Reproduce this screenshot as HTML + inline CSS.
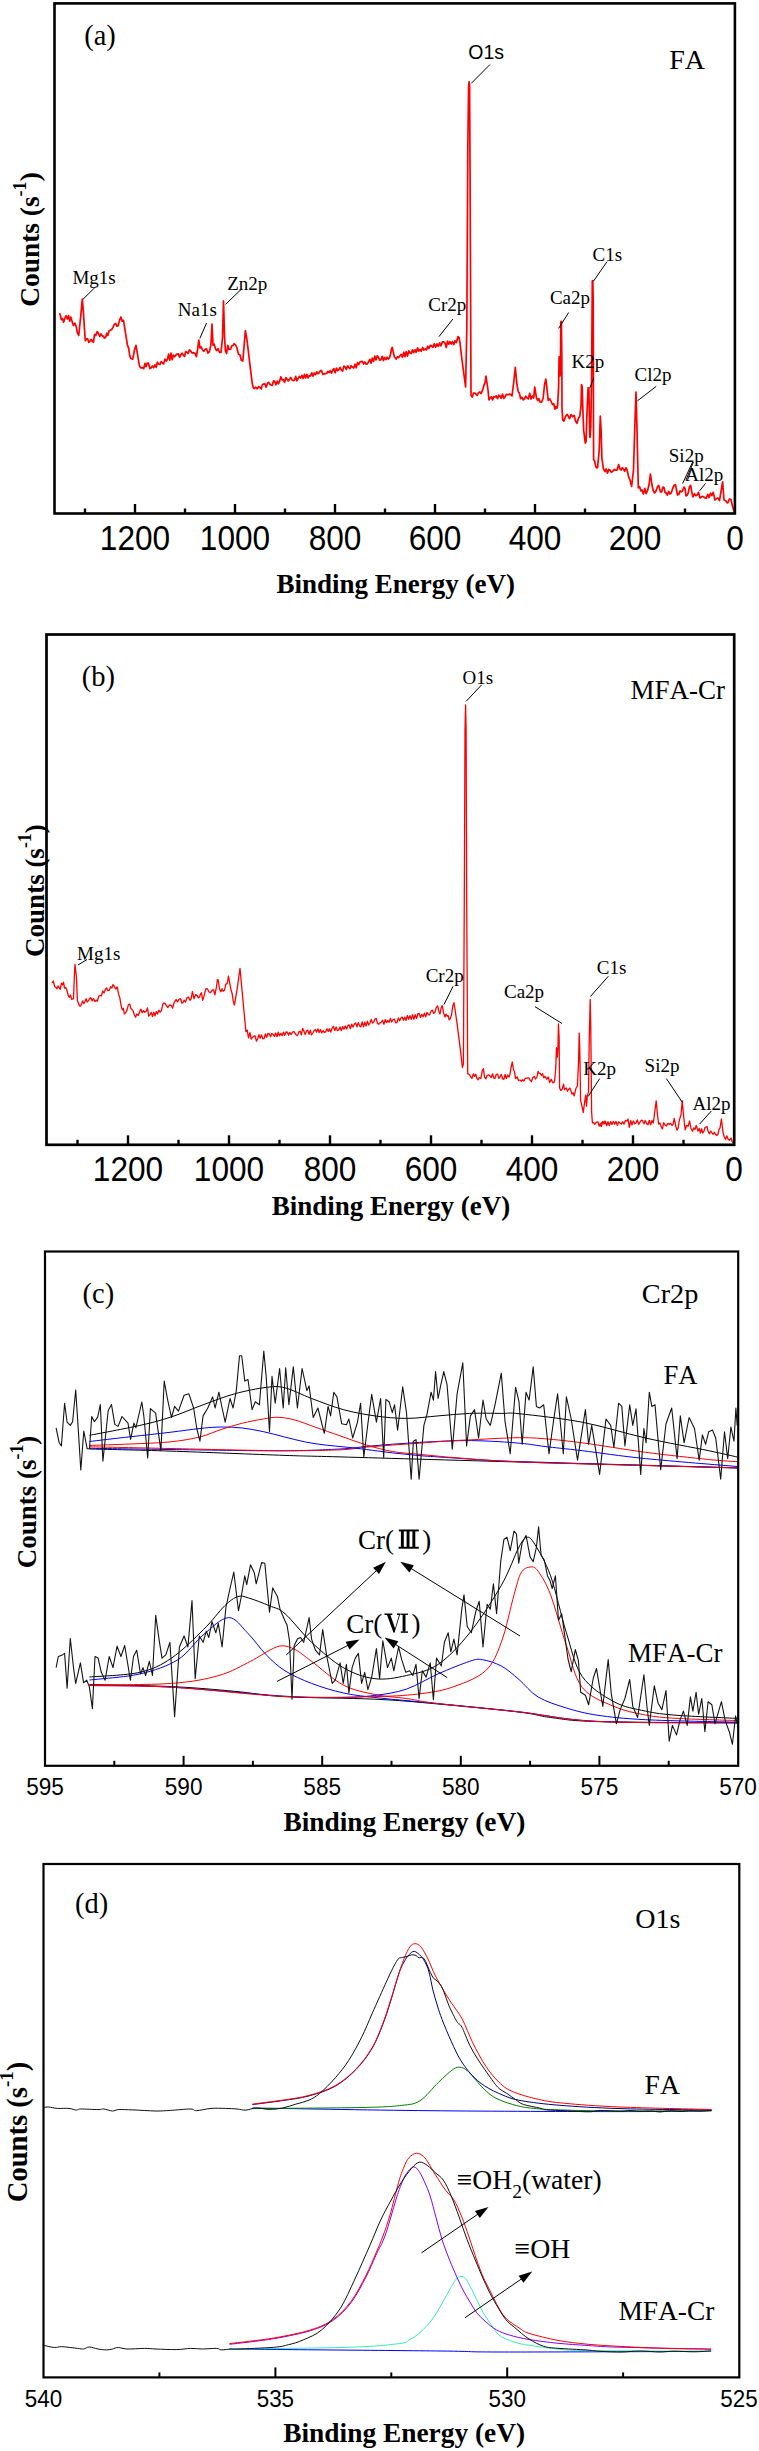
<!DOCTYPE html>
<html><head><meta charset="utf-8"><style>
html,body{margin:0;padding:0;background:#fff;overflow:hidden;width:759px;height:2451px;}
text{font-kerning:none;}
svg{display:block;}
</style></head><body>
<svg width="759" height="2451" viewBox="0 0 759 2451"><path d="M59,313.7 L60.1,314.1 L61.3,319.6 L62.5,318.5 L63.6,322.3 L64.9,318.1 L66.2,315.7 L67.4,319 L68.6,315.6 L69.7,321.1 L70.9,317.1 L72.1,321.6 L73.4,325.5 L74.8,323.1 L76.1,326.2 L77.4,332.7 L78.7,335.5 L80.7,316.4 L82.3,299.2 L83.3,311.1 L85.3,340.7 L86.5,339.3 L87.6,338.6 L88.8,342.5 L89.9,341.4 L91.1,339.3 L92.3,341.3 L93.4,342.3 L94.6,334.3 L95.8,335.5 L97.2,331.6 L98.5,333.5 L99.8,336.5 L101.1,333.9 L102.4,336.1 L103.4,336.1 L104.4,338.1 L105.6,337.4 L106.8,333.2 L107.9,335.4 L109.1,330.8 L110.3,330.2 L111.6,329.5 L113,327.5 L114.3,324.3 L115.6,323.3 L116.9,326.1 L118.2,325.6 L119.6,320.1 L120.9,317 L122.2,321.2 L123.5,320.3 L127.5,345.3 L128.6,347.9 L129.7,355.5 L130.8,358.5 L132.7,359.2 L134.5,350 L136,345.3 L139.3,365.1 L140.4,367.6 L141.5,367.9 L142.6,367.7 L143.8,368.7 L144.9,363.4 L146,366.7 L147.2,363.1 L148.5,363.1 L149.9,368.6 L151.2,367.7 L152.4,365.9 L153.7,367.7 L154.9,364.9 L156.2,367.4 L157.4,362.2 L158.7,363.9 L159.9,364.5 L161.2,361.6 L162.4,363 L163.7,363.9 L164.9,359.1 L166.2,361 L167.4,359.6 L168.6,354.2 L169.8,360.2 L171,353.2 L172.2,359.7 L173.4,355.2 L174.6,356.7 L175.8,355.1 L177.1,354 L178.3,353.8 L179.6,357.3 L180.8,354.7 L182.1,353.1 L183.3,355.2 L184.5,356.5 L185.7,351.5 L186.9,352.2 L188.2,353.5 L189.4,349.8 L190.6,350.9 L192.1,353.1 L193.5,352.7 L194.9,353.3 L196.4,356.7 L197.8,348 L198.8,340 L200,348 L201.3,347 L202.6,350.2 L203.8,351.3 L205.1,349.4 L206.5,348.8 L208,353.1 L209.4,351.6 L210.9,345.1 L212,324.1 L213,345.1 L214.1,344.1 L215.2,348 L216.6,350.6 L218.1,348.7 L219.6,352.5 L221,352.3 L222.5,337.8 L223.5,300.9 L224.6,337.8 L225.4,350.9 L226.6,353.5 L227.8,345.3 L229,349.4 L230.4,349.3 L231.9,345.8 L233,345.5 L234.1,343.6 L235.6,345 L237,348 L238.4,354.1 L239.9,354.7 L241.3,360.3 L242.8,361 L245.4,330.6 L247.1,340.7 L250,365.4 L252.2,382.8 L253.2,387.9 L254.3,388.6 L255.7,387.2 L257.1,388.8 L258.6,386.7 L260,387.5 L261.2,389.1 L262.4,384.6 L263.7,384 L264.9,383.9 L266.1,387.3 L267.4,383.4 L268.6,382.3 L269.8,384.3 L271,385 L272.2,385.4 L273.5,380.9 L274.7,381.2 L275.9,384.8 L277.2,381.2 L278.4,383.9 L279.6,381.4 L280.8,376.8 L282.1,379.8 L283.3,379.7 L284.6,382.4 L285.8,377.7 L287,379 L288.3,380.9 L289.5,379.4 L290.7,377.4 L292,379.9 L293.2,380.6 L294.4,380.3 L295.7,376.4 L296.9,380.8 L298.2,378.4 L299.4,376.4 L300.6,378 L301.9,375.3 L303.1,378.5 L304.4,374.4 L305.6,378 L306.8,374.4 L308.1,378 L309.3,375.5 L310.5,375.9 L311.8,372.8 L313,376.2 L314.2,373 L315.5,374.7 L316.7,371.8 L318,373.9 L319.2,372.5 L320.4,370.6 L321.6,370.7 L322.9,374.5 L324.1,373.8 L325.3,373.6 L326.6,373.5 L327.8,371.3 L329,372.5 L330.2,370.6 L331.5,373.2 L332.7,370.3 L333.9,368.6 L335.2,372.7 L336.4,368.1 L337.7,370.7 L338.9,369.5 L340.1,367.5 L341.4,370.1 L342.6,371.1 L343.9,366.1 L345.1,366.9 L346.3,369.5 L347.6,365.8 L348.8,367.5 L350,368.7 L351.3,365.7 L352.5,367.2 L353.8,368 L355,364.2 L356.2,367.8 L357.5,362.6 L358.7,364.6 L359.9,362 L361.2,361.6 L362.4,361.4 L363.6,364 L364.9,362 L366.1,364.2 L367.4,363.9 L368.6,361.6 L369.8,359.3 L371.1,363.1 L372.3,358 L373.6,361.4 L374.8,356.1 L376,359.9 L377.3,355.7 L378.5,357.5 L379.7,360.1 L380.9,359.7 L382.2,356.3 L383.4,360.6 L384.6,357.4 L385.9,359.5 L387.1,357.1 L388.3,359 L389.5,357.8 L390.6,354 L391.5,349 L392.3,347.5 L393.2,352 L394.5,357 L396.2,359 L397.5,356.7 L398.7,357.6 L400,355.7 L401.2,354.3 L402.5,357.3 L403.8,352.2 L405,356.7 L406.2,351.6 L407.5,356.1 L408.8,350.9 L410,353 L411.2,353.5 L412.5,349.9 L413.8,352.7 L415,349.7 L416.2,352.3 L417.5,347.9 L418.8,351.1 L420,349.5 L421.3,351.2 L422.6,347.5 L423.9,350.1 L425.2,349 L426.4,349.9 L427.7,346.2 L429,348.5 L430.3,345.4 L431.6,345.9 L432.9,347.3 L434.3,343.7 L435.6,347.1 L437,343.8 L438.3,346.5 L439.6,343 L441,345.8 L442.3,341.9 L443.7,341.8 L445,343 L446.3,347.5 L447.5,341.2 L448.8,344.1 L450,341.7 L451.3,344.1 L452.5,341.5 L453.8,344.7 L455,340.7 L456.3,342.6 L458,336.6 L459,337.4 L460,343 L462,360 L465.6,387 L466.8,330 L467.8,150 L468.6,86 L469.1,81.8 L469.6,86 L470.2,200 L471,395.3 L472.2,397.1 L473.5,393.2 L474.8,393.1 L476,394 L477.2,395.3 L478.5,392.7 L479.8,392 L481,393.6 L482.5,390.4 L484,385 L485,383 L486,376 L488,390 L489,400 L490.2,397.7 L491.4,396.9 L492.6,399.9 L493.8,396.7 L495,397 L496.2,395.9 L497.5,398.6 L498.8,395.1 L500,396 L501.2,398.3 L502.5,394.1 L503.8,398.4 L505,397 L506.4,394.4 L507.8,394.7 L509.2,394.2 L510.6,394.3 L512,396 L514,380 L515.3,367.3 L517,385 L518.2,391.7 L519.4,393.1 L520.6,398.6 L521.9,397.1 L523.2,399.9 L524.4,399.1 L525.7,396.2 L527,398 L528.3,398.9 L529.7,393.3 L531,399.1 L532.4,396 L533.7,398 L534.7,387 L536.5,398 L537.7,400.4 L538.8,398.6 L540,402 L541.6,402.2 L543.2,398 L544.5,385 L545.8,379 L546.6,385.4 L548.2,400.4 L549.8,398.9 L551.3,402 L552.5,404.5 L553.7,403.6 L554.9,409.1 L555.9,406.4 L556.9,408.3 L557.6,405.9 L558.6,387 L559.1,356.9 L559.6,356.9 L560,375.9 L560.4,371.1 L560.8,322.1 L561.4,321.3 L561.8,355.3 L562,409.1 L562.8,420.2 L564,421 L565.6,416.2 L567.2,414.4 L568.7,417 L569.5,418.6 L571.1,414.6 L572.7,416.7 L574.2,415.4 L575.6,421.3 L577,423.3 L578.4,418.2 L579.8,416.2 L581,406.7 L581.5,384.6 L582.2,387 L582.9,410.7 L583.7,430.4 L585.3,443.1 L586.1,441.5 L586.9,414.6 L588.1,387.7 L588.9,389.3 L589.7,436 L590.1,437.5 L590.8,426.5 L591.6,379 L592.3,281 L592.8,280.6 L593.2,300 L593.6,459.7 L594.6,460.9 L595.6,466 L596.6,467.8 L597.6,467.6 L599.2,450.2 L600.3,416.2 L601.1,430.4 L601.9,458.1 L603.5,469.2 L605,471.5 L606.2,468.9 L607.5,473.2 L608.8,469.4 L610,470 L611.4,472.3 L612.9,471.1 L614.3,469.4 L615.7,470.4 L617.2,469.9 L618.6,464.6 L619.8,468.6 L621,470 L622.2,467.7 L623.5,469 L624.7,471.3 L626,467.7 L627.2,470.4 L628.6,476.8 L630,480 L631.6,486.4 L633.5,470 L635,420 L636,392 L637,430 L638.3,487.8 L639.5,486.6 L640.8,490.8 L642,490 L643.4,494 L644.8,488.4 L646.1,493.6 L647.5,490.7 L649,485 L650.4,474 L652,485 L653.3,490.7 L654.6,493 L656,491 L657.4,486.9 L658.7,485.4 L660.5,492 L661.7,491.8 L662.8,487.1 L664,487.5 L665,492.3 L666,493 L667.3,495.1 L668.7,491.5 L670,494 L671.4,492.6 L672.8,488.2 L674.1,485.2 L675.5,484.6 L677.5,495 L678.8,494.4 L680.1,490.9 L681.3,491.8 L682.6,490.8 L683.9,487 L685,488.6 L686,496 L687.1,495.3 L688.3,492.6 L689.5,486.7 L690.6,485.4 L691.8,492.1 L693,497 L694.4,493.7 L695.8,495.7 L697.1,495.2 L698.5,492.3 L700,498 L701.2,497 L702.5,496.3 L703.8,496.9 L705,498 L706.4,498.1 L707.7,494.3 L709.1,497.5 L710.5,493.2 L711.8,495.6 L713.2,492.3 L715,500 L716.5,498.5 L718,498 L719.5,500.7 L722.6,481.8 L724,500 L725.8,500.7 L726.8,502.7 L727.9,502.8 L729.5,498.9 L731,499.7 L732.5,506 L734.2,512.2" fill="none" stroke="#ff0000" stroke-width="1.7" stroke-linejoin="round" />
<rect x="54.5" y="3.4" width="680.4" height="510.1" fill="none" stroke="#000" stroke-width="2.6"/>
<line x1="135" y1="513.5" x2="135" y2="504" stroke="#000" stroke-width="2.4"/>
<line x1="235" y1="513.5" x2="235" y2="504" stroke="#000" stroke-width="2.4"/>
<line x1="335" y1="513.5" x2="335" y2="504" stroke="#000" stroke-width="2.4"/>
<line x1="435" y1="513.5" x2="435" y2="504" stroke="#000" stroke-width="2.4"/>
<line x1="535" y1="513.5" x2="535" y2="504" stroke="#000" stroke-width="2.4"/>
<line x1="635" y1="513.5" x2="635" y2="504" stroke="#000" stroke-width="2.4"/>
<line x1="85" y1="513.5" x2="85" y2="508.5" stroke="#000" stroke-width="2.4"/>
<line x1="185" y1="513.5" x2="185" y2="508.5" stroke="#000" stroke-width="2.4"/>
<line x1="285" y1="513.5" x2="285" y2="508.5" stroke="#000" stroke-width="2.4"/>
<line x1="385" y1="513.5" x2="385" y2="508.5" stroke="#000" stroke-width="2.4"/>
<line x1="485" y1="513.5" x2="485" y2="508.5" stroke="#000" stroke-width="2.4"/>
<line x1="585" y1="513.5" x2="585" y2="508.5" stroke="#000" stroke-width="2.4"/>
<line x1="685" y1="513.5" x2="685" y2="508.5" stroke="#000" stroke-width="2.4"/>
<text transform="translate(135,550) scale(1,1.09)" style="font-family:&quot;Liberation Sans&quot;,sans-serif;font-size:31.6px" text-anchor="middle">1200</text>
<text transform="translate(235,550) scale(1,1.09)" style="font-family:&quot;Liberation Sans&quot;,sans-serif;font-size:31.6px" text-anchor="middle">1000</text>
<text transform="translate(335,550) scale(1,1.09)" style="font-family:&quot;Liberation Sans&quot;,sans-serif;font-size:31.6px" text-anchor="middle">800</text>
<text transform="translate(435,550) scale(1,1.09)" style="font-family:&quot;Liberation Sans&quot;,sans-serif;font-size:31.6px" text-anchor="middle">600</text>
<text transform="translate(535,550) scale(1,1.09)" style="font-family:&quot;Liberation Sans&quot;,sans-serif;font-size:31.6px" text-anchor="middle">400</text>
<text transform="translate(635,550) scale(1,1.09)" style="font-family:&quot;Liberation Sans&quot;,sans-serif;font-size:31.6px" text-anchor="middle">200</text>
<text transform="translate(735,550) scale(1,1.09)" style="font-family:&quot;Liberation Sans&quot;,sans-serif;font-size:31.6px" text-anchor="middle">0</text>
<text x="276.5" y="593.4" style="font-family:&quot;Liberation Serif&quot;,serif;font-size:27px;font-weight:bold" text-anchor="start" >Binding Energy (eV)</text>
<text transform="translate(38.7,239.5) rotate(-90)" style="font-family:&quot;Liberation Serif&quot;,serif;font-size:27.4px;font-weight:bold" text-anchor="middle">Counts (s<tspan dy="-12.9" style="font-size:18.1px">-1</tspan><tspan dy="12.9">)</tspan></text>
<text x="84.2" y="45" style="font-family:&quot;Liberation Serif&quot;,serif;font-size:28.5px;font-weight:normal" text-anchor="start" >(a)</text>
<text x="669.3" y="68.6" style="font-family:&quot;Liberation Serif&quot;,serif;font-size:28px;font-weight:normal" text-anchor="start" >FA</text>
<text x="468.3" y="58.8" style="font-family:&quot;Liberation Sans&quot;,sans-serif;font-size:19.5px;font-weight:normal" text-anchor="start" >O1s</text>
<text x="72.4" y="283.6" style="font-family:&quot;Liberation Serif&quot;,serif;font-size:19px;font-weight:normal" text-anchor="start" >Mg1s</text>
<text x="177.8" y="315.9" style="font-family:&quot;Liberation Serif&quot;,serif;font-size:19px;font-weight:normal" text-anchor="start" >Na1s</text>
<text x="227.2" y="289.5" style="font-family:&quot;Liberation Serif&quot;,serif;font-size:19px;font-weight:normal" text-anchor="start" >Zn2p</text>
<text x="428.3" y="311.3" style="font-family:&quot;Liberation Serif&quot;,serif;font-size:19px;font-weight:normal" text-anchor="start" >Cr2p</text>
<text x="592.5" y="261.2" style="font-family:&quot;Liberation Serif&quot;,serif;font-size:19px;font-weight:normal" text-anchor="start" >C1s</text>
<text x="549.9" y="304.3" style="font-family:&quot;Liberation Serif&quot;,serif;font-size:19px;font-weight:normal" text-anchor="start" >Ca2p</text>
<text x="571.6" y="368.1" style="font-family:&quot;Liberation Serif&quot;,serif;font-size:19px;font-weight:normal" text-anchor="start" >K2p</text>
<text x="634.5" y="381.4" style="font-family:&quot;Liberation Serif&quot;,serif;font-size:19px;font-weight:normal" text-anchor="start" >Cl2p</text>
<text x="668.8" y="461.5" style="font-family:&quot;Liberation Serif&quot;,serif;font-size:19px;font-weight:normal" text-anchor="start" >Si2p</text>
<text x="685.3" y="480.7" style="font-family:&quot;Liberation Serif&quot;,serif;font-size:19px;font-weight:normal" text-anchor="start" >Al2p</text>
<line x1="95.5" y1="286.9" x2="82.9" y2="299.4" stroke="#000" stroke-width="1"/>
<line x1="206.5" y1="323.1" x2="199.9" y2="338.3" stroke="#000" stroke-width="1"/>
<line x1="241" y1="289.5" x2="225.6" y2="304.3" stroke="#000" stroke-width="1"/>
<line x1="453" y1="318.9" x2="438.9" y2="336.7" stroke="#000" stroke-width="1"/>
<line x1="490" y1="64.5" x2="471.2" y2="83.4" stroke="#000" stroke-width="1"/>
<line x1="607" y1="261.7" x2="593.3" y2="281.4" stroke="#000" stroke-width="1"/>
<line x1="568.7" y1="312.5" x2="558.6" y2="328.4" stroke="#000" stroke-width="1"/>
<line x1="593.9" y1="377.7" x2="589.6" y2="388.4" stroke="#000" stroke-width="1"/>
<line x1="656.2" y1="386.4" x2="637.4" y2="400.9" stroke="#000" stroke-width="1"/>
<line x1="692.8" y1="461.7" x2="682.6" y2="483.5" stroke="#000" stroke-width="1"/>
<line x1="693.4" y1="462.1" x2="686" y2="480" stroke="#000" stroke-width="1"/>
<line x1="705.5" y1="483.5" x2="699.7" y2="490.7" stroke="#000" stroke-width="1"/>
<path d="M52,982.9 L53.3,981 L54.6,986.4 L55.9,987.5 L57,988.7 L58.1,986 L59.2,987.5 L60.3,989.3 L61.4,983.1 L62.5,984.9 L63.5,982.2 L64.5,988.2 L65.8,987.5 L67.1,990.8 L68.2,995.4 L69.4,997.4 L70.5,995.1 L71.7,999.4 L73.5,998.7 L74.4,975 L75,964.5 L75.6,970 L76.4,976.4 L77.4,1000.7 L78.3,1002.7 L79.4,1005.8 L80.5,1006.2 L81.6,1004 L82.7,1000.9 L83.8,1003.6 L84.9,1002 L86.1,998.6 L87.2,1002 L88.3,1000.9 L89.5,998.7 L90.8,997.6 L92.1,1000.9 L93.5,998.5 L94.8,1001.5 L96.1,1000.1 L97.4,1001.2 L98.8,996 L100.1,995.5 L101.4,995.9 L102.7,991 L104,992.9 L105.3,989.5 L106.6,988 L107.9,990.6 L109.3,990.4 L110.6,986.6 L111.9,988.2 L112.9,984.6 L113.9,985.6 L115,988.1 L116.1,988.9 L117.2,986.9 L118.5,993.9 L119.8,997.7 L121.1,1005.3 L122.2,1009.8 L123.3,1008.3 L124.4,1013.9 L125.7,1012.7 L127,1010.1 L128.4,1004.7 L129.7,1004 L130.8,1008.4 L131.9,1009.3 L133,1010.6 L134.3,1014.8 L135.6,1017.2 L136.9,1013.9 L138.3,1015.4 L139.6,1011.9 L140.9,1009.1 L142.2,1012.8 L143.6,1010.6 L144.9,1012.3 L146.2,1011.3 L147.5,1007.8 L148.7,1016.2 L150,1014.6 L151.2,1012.4 L152.5,1016.5 L153.8,1012.1 L155,1015.8 L156.2,1011.6 L157.5,1014 L158.8,1010.1 L160,1012.2 L161.4,1010.6 L162.8,1004.2 L164,1003 L165.1,1003.4 L166.3,1005.4 L167.9,1007.5 L169.5,1005 L171.1,1005.3 L172.6,1008.2 L173.8,1003.5 L175,1001.1 L176.2,999.5 L177.4,1001.9 L179,999.4 L180.6,998.7 L181.8,1003.1 L182.9,1002.7 L184.2,1000.1 L185.6,1002.1 L186.9,997.9 L188.4,997.1 L190,1000.3 L191.2,998.6 L192.4,991.6 L194,998.7 L195.6,994.6 L197.2,995.6 L198.3,997.8 L199.5,997.1 L200.5,994 L201.5,992.8 L202.7,1000.3 L204.2,995.4 L205.8,988.8 L207.4,988.7 L209,992 L210.6,992.7 L212.2,990 L213.6,990 L214.9,994.8 L216.5,986.9 L217.4,979.5 L218.2,980 L219.5,989 L220.8,991.8 L222,988.7 L223.2,991.2 L224.5,990.3 L225.8,984.2 L227.2,983.6 L228.5,976.2 L231,990 L232.1,993.3 L233.3,1001.1 L234.4,1005.2 L237,990 L240,968.3 L242,990 L245.9,1031.5 L247.2,1030.1 L248.5,1037.9 L249.9,1032.7 L251.2,1039 L252.5,1037.4 L253.8,1036.2 L255.1,1035.9 L256.4,1041.1 L257.7,1038.8 L258.9,1034.6 L260.2,1038.2 L261.5,1034.9 L262.8,1038.8 L264.1,1038.6 L265.4,1034 L266.7,1037.3 L268,1033.5 L269.2,1033.8 L270.5,1036.7 L271.8,1033.5 L273.1,1034.3 L274.4,1036.5 L275.7,1033 L277,1036.7 L278.3,1032.2 L279.5,1035.7 L280.8,1033.4 L282.1,1035.8 L283.4,1032.2 L284.7,1035.4 L286,1032 L287.3,1032.1 L288.6,1035.3 L289.8,1032.4 L291.1,1034.5 L292.4,1032.3 L293.7,1031.5 L295,1033.2 L296.3,1035 L297.5,1035.6 L298.8,1031.9 L300.1,1031.2 L301.4,1035 L302.6,1028.4 L303.9,1031 L305.2,1034.6 L306.5,1030.9 L307.7,1030.1 L309,1034.2 L310.3,1030.2 L311.5,1034.9 L312.8,1033 L314.1,1030.7 L315.4,1029.6 L316.6,1032.2 L317.9,1028.8 L319.2,1032.6 L320.5,1029.5 L321.7,1033 L323,1030.8 L324.3,1032.3 L325.6,1031.9 L326.9,1028.8 L328.2,1031.4 L329.5,1028.8 L330.8,1032.1 L332.1,1028.2 L333.4,1026.4 L334.8,1030.6 L336.1,1027 L337.4,1030.6 L338.7,1030 L340,1026.9 L341.3,1030.7 L342.6,1026.6 L343.9,1029.2 L345.2,1026 L346.5,1029.1 L347.8,1025.8 L349.1,1024.9 L350.4,1028.7 L351.7,1024.2 L353,1027.1 L354.3,1024.2 L355.6,1022.9 L356.9,1026.7 L358.2,1022.6 L359.6,1025.7 L360.9,1026.9 L362.2,1022 L363.5,1026.8 L364.8,1022.2 L366.1,1026 L367.4,1021.1 L368.7,1025 L370,1023 L371.2,1019.4 L372.5,1023.1 L373.8,1022 L375,1019 L376.2,1018.4 L377.5,1023.6 L378.8,1024.2 L380,1023 L381.3,1021.9 L382.6,1020.3 L383.9,1024.4 L385.2,1019.6 L386.5,1022.7 L387.8,1020.4 L389.1,1022.4 L390.4,1018.4 L391.7,1022 L393.1,1019.7 L394.4,1019 L395.7,1022.9 L397,1022.7 L398.3,1017.9 L399.6,1020.7 L400.9,1018.1 L402.2,1017.1 L403.5,1020.3 L404.8,1017.1 L406.1,1020.4 L407.4,1015.5 L408.7,1019.4 L410,1015.7 L411.3,1019.4 L412.6,1014.6 L413.9,1019.2 L415.2,1014.7 L416.6,1018.4 L417.9,1013.6 L419.2,1013.5 L420.5,1017.6 L421.8,1014.4 L423.1,1016.8 L424.4,1013.1 L425.7,1016.9 L427,1012.5 L428.3,1014.3 L429.6,1015 L431,1011.1 L432.3,1010.2 L433.7,1013.4 L435,1012 L436.3,1007.4 L437.6,1006 L438.8,1011.2 L440,1014 L441.1,1008 L442.2,1005.5 L443.6,1012.9 L445,1017 L446,1014.1 L447,1016 L448.1,1015.7 L449.2,1019.8 L450.3,1018.5 L451.5,1015 L452.8,1005.9 L454,1002.6 L457.1,1023.7 L458.7,1036.4 L460.8,1053.2 L462.4,1067.5 L463.4,1063.8 L464.3,900 L465,730 L465.6,705 L466.1,730 L466.7,900 L467.7,1073.8 L469.2,1074.4 L470.8,1077 L472,1078.3 L473.3,1073.9 L474.5,1076.4 L475.7,1074.2 L476.9,1078.3 L478.1,1079.8 L479.3,1077.5 L480.9,1078.4 L482.4,1070.1 L483.4,1068.8 L484.5,1077 L485.9,1078.8 L487.2,1075.5 L488.6,1074.8 L490,1076 L491.2,1077.5 L492.5,1073.8 L493.8,1078.2 L495,1078.3 L496.2,1074.5 L497.5,1074 L498.8,1078.4 L500,1077 L501.3,1074.4 L502.6,1078.8 L503.9,1079.3 L505.1,1074.3 L506.4,1078.5 L507.7,1075 L509,1077 L510,1074.2 L511,1068 L512.3,1062 L513.5,1070 L514.5,1071.8 L515.6,1078.6 L517.1,1076.8 L518.5,1080.5 L520,1080 L521.3,1081.3 L522.6,1079.7 L523.9,1081 L525.1,1078.4 L526.3,1078.3 L527.6,1077.8 L528.8,1077.8 L530,1080 L531.4,1081.5 L532.8,1077.7 L534.2,1076.4 L535.6,1079 L537,1077 L538.1,1071.4 L539.2,1073.3 L540.3,1073.3 L541.5,1075.5 L542.6,1073.8 L543.8,1077.9 L545,1076.2 L546.6,1079.2 L548.2,1077 L549.7,1082.5 L551.3,1079.3 L552.9,1082.9 L554.5,1081.7 L555.7,1069 L556.5,1047.7 L557.3,1057.2 L558,1046.9 L558.4,1024 L559.1,1037.4 L559.6,1088 L560.8,1090.4 L562,1089.6 L563.6,1084.1 L564.4,1089.6 L566.3,1088 L567.5,1091.3 L568.7,1089.2 L569.9,1088.1 L571.1,1091.2 L572.1,1094.2 L573.1,1092.8 L574.2,1095.9 L575.8,1088.8 L577.4,1085.7 L578.6,1061.1 L579.2,1033.1 L579.8,1050.1 L580.6,1100.7 L582.2,1107 L583.3,1112.5 L584.5,1103 L585.7,1095.1 L586.5,1106.2 L587.3,1095.9 L588.5,1092 L589.3,1037.4 L590.2,999.5 L590.8,1029.5 L591.6,1111.7 L592.4,1122.8 L593.6,1122.7 L594.8,1124.4 L596.4,1122.1 L598,1122 L599.1,1126 L600.3,1124.4 L601.5,1123 L602.6,1121.6 L603.8,1122.5 L605,1123.6 L600,1124 L601.3,1126.6 L602.7,1121.5 L604,1122.3 L605.3,1121.1 L606.7,1125.9 L608,1121.7 L609.3,1125.5 L610.7,1121.6 L612,1124.4 L613.3,1121.5 L614.7,1124.1 L616,1121.4 L617.3,1125.4 L618.7,1121.8 L620,1123 L621.3,1124.1 L622.7,1121.8 L624,1124.2 L625.3,1120.6 L626.7,1121.2 L628,1119 L629.3,1127.3 L630.7,1120.6 L632,1125 L633.3,1120.9 L634.7,1123.8 L636,1123.1 L637.3,1119.9 L638.7,1124.4 L640,1122 L641.3,1120.1 L642.7,1120.9 L644,1123.8 L645.3,1120.5 L646.6,1123.4 L648,1124.7 L649.3,1120.3 L650.6,1124.9 L652,1120.5 L653.3,1123 L655,1110 L656.2,1100.9 L657.5,1115 L658.6,1124 L659.9,1122.9 L661.2,1126.5 L662.4,1129 L663.7,1122.7 L665,1125 L666.4,1126 L667.8,1123.4 L669.2,1124.4 L670.6,1123.3 L672,1125.5 L673.1,1124.3 L674.2,1118.3 L676,1127 L677,1130.1 L678,1128.4 L679.5,1119.5 L681,1115 L682.3,1100.9 L683.5,1115 L685.2,1129.9 L686.7,1125.3 L688.1,1126.2 L689.6,1121 L691,1128.5 L692.5,1131.3 L693.7,1127.9 L695,1129.4 L696.2,1125.5 L698,1131 L699.2,1128.5 L700.4,1133 L701.6,1128.8 L702.8,1133 L704,1131 L705,1127.5 L706,1127 L707,1126.5 L708,1131 L709.3,1133.7 L710.7,1131 L712,1133 L713.2,1134.2 L714.4,1132.3 L715.6,1134.5 L716.8,1135.5 L718,1134 L719,1129.7 L720,1128 L721.4,1119 L723,1132 L724.3,1137 L725.5,1139.3 L726.8,1135.8 L728,1139 L729.5,1140.3 L731,1138 L732.5,1142.5 L734,1143" fill="none" stroke="#ff0000" stroke-width="1.3" stroke-linejoin="round" />
<rect x="46.5" y="634.5" width="687.7" height="510.3" fill="none" stroke="#000" stroke-width="2.7"/>
<line x1="128" y1="1144.8" x2="128" y2="1135.3" stroke="#000" stroke-width="2.4"/>
<line x1="229" y1="1144.8" x2="229" y2="1135.3" stroke="#000" stroke-width="2.4"/>
<line x1="330" y1="1144.8" x2="330" y2="1135.3" stroke="#000" stroke-width="2.4"/>
<line x1="431" y1="1144.8" x2="431" y2="1135.3" stroke="#000" stroke-width="2.4"/>
<line x1="532" y1="1144.8" x2="532" y2="1135.3" stroke="#000" stroke-width="2.4"/>
<line x1="633" y1="1144.8" x2="633" y2="1135.3" stroke="#000" stroke-width="2.4"/>
<line x1="77.5" y1="1144.8" x2="77.5" y2="1139.8" stroke="#000" stroke-width="2.4"/>
<line x1="178.5" y1="1144.8" x2="178.5" y2="1139.8" stroke="#000" stroke-width="2.4"/>
<line x1="279.5" y1="1144.8" x2="279.5" y2="1139.8" stroke="#000" stroke-width="2.4"/>
<line x1="380.5" y1="1144.8" x2="380.5" y2="1139.8" stroke="#000" stroke-width="2.4"/>
<line x1="481.5" y1="1144.8" x2="481.5" y2="1139.8" stroke="#000" stroke-width="2.4"/>
<line x1="582.5" y1="1144.8" x2="582.5" y2="1139.8" stroke="#000" stroke-width="2.4"/>
<line x1="683.5" y1="1144.8" x2="683.5" y2="1139.8" stroke="#000" stroke-width="2.4"/>
<text transform="translate(128,1181.3) scale(1,1.09)" style="font-family:&quot;Liberation Sans&quot;,sans-serif;font-size:31.6px" text-anchor="middle">1200</text>
<text transform="translate(229,1181.3) scale(1,1.09)" style="font-family:&quot;Liberation Sans&quot;,sans-serif;font-size:31.6px" text-anchor="middle">1000</text>
<text transform="translate(330,1181.3) scale(1,1.09)" style="font-family:&quot;Liberation Sans&quot;,sans-serif;font-size:31.6px" text-anchor="middle">800</text>
<text transform="translate(431,1181.3) scale(1,1.09)" style="font-family:&quot;Liberation Sans&quot;,sans-serif;font-size:31.6px" text-anchor="middle">600</text>
<text transform="translate(532,1181.3) scale(1,1.09)" style="font-family:&quot;Liberation Sans&quot;,sans-serif;font-size:31.6px" text-anchor="middle">400</text>
<text transform="translate(633,1181.3) scale(1,1.09)" style="font-family:&quot;Liberation Sans&quot;,sans-serif;font-size:31.6px" text-anchor="middle">200</text>
<text transform="translate(734,1181.3) scale(1,1.09)" style="font-family:&quot;Liberation Sans&quot;,sans-serif;font-size:31.6px" text-anchor="middle">0</text>
<text x="271.7" y="1214.5" style="font-family:&quot;Liberation Serif&quot;,serif;font-size:27px;font-weight:bold" text-anchor="start" >Binding Energy (eV)</text>
<text transform="translate(43.5,890.6) rotate(-90)" style="font-family:&quot;Liberation Serif&quot;,serif;font-size:27px;font-weight:bold" text-anchor="middle">Counts (s<tspan dy="-12.7" style="font-size:17.8px">-1</tspan><tspan dy="12.7">)</tspan></text>
<text x="81.7" y="685.6" style="font-family:&quot;Liberation Serif&quot;,serif;font-size:28.5px;font-weight:normal" text-anchor="start" >(b)</text>
<text x="630.5" y="699.1" style="font-family:&quot;Liberation Serif&quot;,serif;font-size:27px;font-weight:normal" text-anchor="start" >MFA-Cr</text>
<text x="462.5" y="683.5" style="font-family:&quot;Liberation Serif&quot;,serif;font-size:19px;font-weight:normal" text-anchor="start" >O1s</text>
<text x="77" y="960" style="font-family:&quot;Liberation Serif&quot;,serif;font-size:19px;font-weight:normal" text-anchor="start" >Mg1s</text>
<text x="425.7" y="982.4" style="font-family:&quot;Liberation Serif&quot;,serif;font-size:19px;font-weight:normal" text-anchor="start" >Cr2p</text>
<text x="504" y="997.9" style="font-family:&quot;Liberation Serif&quot;,serif;font-size:19px;font-weight:normal" text-anchor="start" >Ca2p</text>
<text x="596.8" y="974" style="font-family:&quot;Liberation Serif&quot;,serif;font-size:19px;font-weight:normal" text-anchor="start" >C1s</text>
<text x="583.2" y="1074.8" style="font-family:&quot;Liberation Serif&quot;,serif;font-size:19px;font-weight:normal" text-anchor="start" >K2p</text>
<text x="644.6" y="1071.9" style="font-family:&quot;Liberation Serif&quot;,serif;font-size:19px;font-weight:normal" text-anchor="start" >Si2p</text>
<text x="692.5" y="1109.6" style="font-family:&quot;Liberation Serif&quot;,serif;font-size:19px;font-weight:normal" text-anchor="start" >Al2p</text>
<line x1="481.7" y1="684.8" x2="466" y2="701.4" stroke="#000" stroke-width="1"/>
<line x1="87" y1="959.5" x2="78" y2="965" stroke="#000" stroke-width="1"/>
<line x1="453" y1="986.4" x2="444" y2="1004.5" stroke="#000" stroke-width="1"/>
<line x1="535" y1="1006.7" x2="562" y2="1023.5" stroke="#000" stroke-width="1"/>
<line x1="608.4" y1="976.2" x2="590.4" y2="996.5" stroke="#000" stroke-width="1"/>
<line x1="599.7" y1="1078.6" x2="588.1" y2="1096.5" stroke="#000" stroke-width="1"/>
<line x1="666.4" y1="1078.6" x2="682.3" y2="1102.3" stroke="#000" stroke-width="1"/>
<line x1="711.3" y1="1111" x2="699.7" y2="1124" stroke="#000" stroke-width="1"/>
<path d="M89.5,1449 C102.9,1449.3 137.4,1450 170,1451.1 C202.6,1452.2 256.7,1454.4 285,1455.4 C313.3,1456.4 297.5,1455.7 340,1456.9 C382.5,1458.1 473.8,1460.8 540,1462.6 C606.2,1464.4 704.3,1467.1 737.2,1468" fill="none" stroke="#000" stroke-width="1" stroke-linejoin="round" />
<path d="M89.5,1448.3 C102.9,1448.5 138.2,1449.1 170,1449.5 C201.8,1449.9 251.7,1450.9 280,1450.8 C308.3,1450.7 325.6,1449.7 340,1449 C354.4,1448.3 357.6,1447.2 366.4,1446.4 C375.2,1445.6 383.9,1444.9 392.7,1444.2 C401.5,1443.5 410.2,1442.9 419,1442.4 C427.8,1441.9 436.6,1441.4 445.4,1441.1 C454.2,1440.8 463,1440.5 471.8,1440.6 C480.6,1440.7 489.3,1441.1 498.1,1441.6 C506.9,1442.1 516.7,1442.9 524.5,1443.7 C532.3,1444.5 535.4,1445.3 545,1446.5 C554.6,1447.7 565.5,1448.7 582.2,1450.7 C599,1452.7 619.7,1456 645.5,1458.6 C671.3,1461.2 721.9,1465.2 737.2,1466.5" fill="none" stroke="#0000ff" stroke-width="1" stroke-linejoin="round" />
<path d="M89.5,1446.8 C102.9,1447.1 138.2,1447.8 170,1448.5 C201.8,1449.2 251.7,1450.5 280,1450.7 C308.3,1450.9 325.6,1450.4 340,1449.8 C354.4,1449.2 357.6,1447.9 366.4,1447.1 C375.2,1446.3 383.9,1445.7 392.7,1445 C401.5,1444.3 410.2,1443.9 419,1443.2 C427.8,1442.5 436.6,1441.7 445.4,1441.1 C454.2,1440.5 463,1440.2 471.8,1439.8 C480.6,1439.3 490.2,1438.8 498.1,1438.4 C506,1438.1 512.2,1437.7 519.2,1437.7 C526.2,1437.7 529.5,1437.6 540,1438.4 C550.5,1439.2 564.6,1440.5 582.2,1442.8 C599.8,1445.1 624.4,1449.5 645.5,1452.3 C666.6,1455.1 693.4,1457.9 708.7,1459.5 C724,1461.1 732.5,1461.3 737.2,1461.7" fill="none" stroke="#ff0000" stroke-width="1" stroke-linejoin="round" />
<path d="M89.5,1441.5 C96.2,1440.7 116.6,1438.3 130,1436.8 C143.4,1435.3 158.3,1433.7 170,1432.3 C181.7,1430.9 191.5,1429.4 200,1428.5 C208.5,1427.6 214.1,1427.1 221.1,1427 C228.1,1426.9 235.2,1427.2 242.2,1428 C249.2,1428.8 256.2,1430.1 263.2,1431.6 C270.2,1433.1 277.3,1435.2 284.3,1436.9 C291.3,1438.6 298.4,1440.6 305.4,1442 C312.4,1443.4 319.9,1444.4 326.5,1445.2 C333.1,1446 338.4,1446.3 345,1447 C351.6,1447.7 358.4,1448.5 366.4,1449.5 C374.3,1450.5 383.9,1451.9 392.7,1452.9 C401.5,1453.9 410.2,1454.8 419,1455.6 C427.8,1456.3 432.2,1456.5 445.4,1457.4 C458.6,1458.3 482.3,1460 498.1,1460.8 C513.9,1461.6 523,1461.7 540,1462.2 C557,1462.7 567.1,1463.1 600,1464 C632.9,1464.9 714.3,1467.2 737.2,1467.8" fill="none" stroke="#0000ff" stroke-width="1" stroke-linejoin="round" />
<path d="M89.5,1445.5 C96.2,1445.2 116.6,1444.6 130,1444 C143.4,1443.4 158.3,1443.1 170,1441.9 C181.7,1440.7 191.5,1439 200,1436.9 C208.5,1434.8 214.1,1431.8 221.1,1429.5 C228.1,1427.2 235.2,1425 242.2,1423.2 C249.2,1421.5 257.2,1420 263.2,1419 C269.2,1418 272.7,1417.1 278,1417.3 C283.3,1417.5 288.6,1418.3 294.9,1420 C301.2,1421.7 308.4,1424.8 315.9,1427.4 C323.4,1430 331.6,1432.9 340,1435.8 C348.4,1438.7 357.6,1442.4 366.4,1445 C375.2,1447.6 383.9,1450 392.7,1451.6 C401.5,1453.1 410.2,1453.4 419,1454.3 C427.8,1455.2 436.6,1456.1 445.4,1456.9 C454.2,1457.7 463,1458.3 471.8,1459 C480.6,1459.7 486.7,1460.2 498.1,1460.8 C509.5,1461.4 523,1462.1 540,1462.7 C557,1463.3 567.1,1463.4 600,1464.3 C632.9,1465.2 714.3,1467.3 737.2,1467.9" fill="none" stroke="#ff0000" stroke-width="1" stroke-linejoin="round" />
<path d="M89.5,1435.3 C97.9,1433.7 126.3,1428.5 139.9,1425.4 C153.5,1422.4 160.5,1420.4 171,1417 C181.5,1413.6 192.5,1408.7 203.1,1404.8 C213.7,1400.9 224.2,1396.7 234.7,1393.8 C245.2,1390.9 257.9,1388.4 266.3,1387.4 C274.7,1386.4 277.4,1386 285,1387.8 C292.6,1389.6 301.9,1394.9 311.6,1398.5 C321.3,1402.1 332.6,1406.7 343.2,1409.6 C353.8,1412.5 364.3,1414.4 374.9,1415.9 C385.4,1417.4 396,1418.4 406.5,1418.4 C417,1418.4 427.6,1416.7 438.1,1415.9 C448.6,1415.1 459.2,1413.8 469.7,1413.4 C480.2,1413 492.9,1413.3 501.3,1413.4 C509.7,1413.5 506.5,1412.3 520,1413.8 C533.5,1415.3 561.3,1418.2 582.2,1422.2 C603.1,1426.2 624.4,1433.2 645.5,1438 C666.6,1442.8 693.4,1447.5 708.7,1450.7 C724,1453.9 732.5,1456 737.2,1457" fill="none" stroke="#000" stroke-width="1" stroke-linejoin="round" />
<path d="M89.5,1684.5 C103.2,1684.8 147.3,1685.5 171.5,1686.6 C195.7,1687.7 215.8,1689.6 234.7,1691.3 C253.6,1693 261.6,1695.4 285,1696.7 C308.4,1698 349.4,1698 374.9,1699.2 C400.4,1700.4 414.1,1701.8 438.1,1704 C462.1,1706.2 500.2,1709.8 519,1712.1 C537.8,1714.3 537.4,1715.9 550.6,1717.5 C563.8,1719.1 566.9,1720.7 598,1721.6 C629.1,1722.5 714,1722.6 737.2,1722.8" fill="none" stroke="#000" stroke-width="1" stroke-linejoin="round" />
<path d="M89.5,1680 C97.9,1679 125.2,1677.3 139.9,1673.9 C154.6,1670.5 167.3,1666.2 177.8,1659.7 C188.3,1653.2 194.7,1642 203.1,1635 C211.5,1628 221,1618 228.4,1617.6 C235.8,1617.2 241.1,1626.6 247.4,1632.8 C253.7,1639 260,1648.6 266.3,1654.9 C272.6,1661.2 277.4,1666 285,1670.8 C292.6,1675.5 301.9,1679.7 311.6,1683.4 C321.3,1687.1 332.6,1690.6 343.2,1692.9 C353.8,1695.2 359.1,1695.7 374.9,1697.5 C390.7,1699.3 414.1,1701.2 438.1,1703.6 C462.1,1706 492.4,1708.8 519,1711.8 C545.6,1714.8 561.6,1719.6 598,1721.4 C634.4,1723.2 714,1722.6 737.2,1722.8" fill="none" stroke="#0000ff" stroke-width="1" stroke-linejoin="round" />
<path d="M89.5,1685 C103.2,1684.7 149.9,1685 171.5,1683.4 C193.1,1681.8 205.7,1679.2 218.9,1675.5 C232.1,1671.8 242,1665.5 250.5,1661.3 C259,1657 264.8,1652.6 270,1650 C275.2,1647.4 277.8,1645.9 282,1645.8 C286.2,1645.7 290.1,1646.9 295,1649.5 C299.9,1652.1 303.6,1655.4 311.6,1661.3 C319.6,1667.2 332.6,1679.5 343.2,1685 C353.8,1690.5 364.3,1692.2 374.9,1694.5 C385.4,1696.8 396,1697 406.5,1698.5 C417,1700 419.4,1701.4 438.1,1703.6 C456.9,1705.8 492.4,1708.9 519,1711.9 C545.6,1714.9 561.6,1719.7 598,1721.5 C634.4,1723.3 714,1722.6 737.2,1722.8" fill="none" stroke="#ff0000" stroke-width="1" stroke-linejoin="round" />
<path d="M89.5,1685.5 C103.2,1685.8 138.9,1685.4 171.5,1687.2 C204.1,1689 256.9,1694.5 285,1696.2 C313.1,1697.9 325,1697.6 340,1697.5 C355,1697.4 363.8,1696.8 374.9,1695.4 C386,1694 396,1692.7 406.5,1689.1 C417,1685.5 427.6,1678.5 438.1,1673.9 C448.6,1669.3 462.3,1663.7 469.7,1661.3 C477.1,1658.9 477.1,1658.9 482.4,1659.7 C487.7,1660.5 495.2,1662.7 501.3,1666 C507.4,1669.3 512.9,1674.3 519,1679.5 C525.1,1684.7 530.1,1692.2 538,1696.9 C545.9,1701.7 556.4,1704.9 566.4,1708 C576.4,1711.1 584.8,1713.3 598,1715.3 C611.2,1717.2 622.3,1718.5 645.5,1719.7 C668.7,1720.9 721.9,1721.8 737.2,1722.2" fill="none" stroke="#0000ff" stroke-width="1" stroke-linejoin="round" />
<path d="M89.5,1685.5 C103.2,1685.8 138.9,1685.4 171.5,1687.2 C204.1,1689 251.1,1694.9 285,1696.5 C318.9,1698.1 352,1697.1 374.9,1696.6 C397.8,1696.1 409.1,1695.2 422.3,1693.5 C435.5,1691.8 443.4,1690.4 453.9,1686.6 C464.4,1682.8 477.6,1678.2 485.5,1670.8 C493.4,1663.4 496.6,1654.9 501.3,1642.3 C506.1,1629.7 510.7,1606.5 514,1594.9 C517.3,1583.4 518.3,1577.7 521,1573 C523.7,1568.3 527.3,1567.3 530.1,1567 C532.9,1566.7 534.6,1566.4 538,1571.1 C541.4,1575.8 545.9,1582.5 550.6,1594.9 C555.3,1607.3 561.1,1630.1 566.4,1645.5 C571.7,1660.9 574.3,1677.2 582.2,1687.4 C590.1,1697.6 603.4,1701.8 613.9,1706.4 C624.4,1711 635,1713 645.5,1715 C656,1717 661.8,1717.5 677.1,1718.4 C692.4,1719.3 727.2,1720.2 737.2,1720.6" fill="none" stroke="#ff0000" stroke-width="1" stroke-linejoin="round" />
<path d="M89.5,1677 C97.9,1676.2 126.2,1675.5 139.9,1672.3 C153.6,1669.1 160.9,1665.2 171.5,1658.1 C182.1,1651 194.7,1638.2 203.6,1629.5 C212.5,1620.8 219,1611.3 224.7,1605.8 C230.4,1600.3 233.9,1597.9 237.8,1596.6 C241.8,1595.3 243.1,1596.4 248.4,1597.9 C253.7,1599.4 263.4,1603.2 269.5,1605.8 C275.6,1608.4 278,1607.6 285,1613.7 C292,1619.8 301.9,1633.3 311.6,1642.3 C321.3,1651.3 332.6,1661.5 343.2,1667.6 C353.8,1673.7 364.3,1677.4 374.9,1678.7 C385.4,1680 396,1677.9 406.5,1675.5 C417,1673.1 427.6,1671.5 438.1,1664.4 C448.6,1657.3 459.2,1646 469.7,1632.8 C480.2,1619.6 493.1,1599.7 501.3,1585.4 C509.5,1571.1 514.7,1555 519,1547 C523.3,1539 524.3,1537.8 526.9,1537.3 C529.5,1536.8 530.8,1537.9 534.8,1544.3 C538.8,1550.7 545.3,1561.2 550.6,1575.9 C555.9,1590.7 561.1,1616 566.4,1632.8 C571.7,1649.5 574.3,1664.9 582.2,1676.4 C590.1,1687.9 603.4,1695.9 613.9,1701.7 C624.4,1707.5 635,1708.8 645.5,1711.1 C656,1713.4 661.8,1714.1 677.1,1715.3 C692.4,1716.5 727.2,1717.9 737.2,1718.4" fill="none" stroke="#000" stroke-width="1" stroke-linejoin="round" />
<path d="M56.1,1427.9 L59.2,1442.8 L61.4,1445.9 L64.6,1403.2 L67.1,1422.2 L70.3,1425.4 L72.6,1421.7 L75.7,1390 L77.6,1419 L80.8,1470 L83.8,1431 L87.1,1448.7 L89.5,1448.7 L91.7,1416.5 L94.4,1421.7 L97.7,1417.1 L100.3,1404.6 L102.9,1461.3 L108.2,1410.5 L111.5,1404.6 L114.8,1424.4 L118.1,1426.4 L122,1416.5 L128,1423.1 L130.6,1439.5 L133.9,1423.1 L135.9,1427.7 L141.8,1402 L143.8,1415.8 L147.7,1458 L150.4,1408.6 L155.6,1413.2 L160.9,1450.7 L164.2,1381.1 L167.7,1400.1 L171.5,1417.5 L174.6,1406.4 L178.4,1411.1 L184.1,1395.3 L188.9,1393.8 L193.6,1408 L196.8,1428.5 L199.9,1441.2 L203.1,1415.9 L207.8,1408 L212.6,1396.9 L215.1,1408 L218.9,1392.2 L222.1,1408 L225.2,1422.2 L230,1398.5 L233.1,1408 L236.3,1390.6 L239.5,1355.8 L241.7,1355.8 L244.8,1381.1 L248,1379.5 L252.1,1409.6 L255.3,1401.7 L259.4,1404.8 L263.8,1351.1 L266.3,1378 L269.5,1431.7 L272,1376.4 L275.2,1403.2 L279.6,1368.5 L283.2,1408 L285.7,1367.8 L288.9,1404.8 L293.3,1366.9 L297.4,1408 L302.1,1368.5 L306.9,1390.6 L309.1,1385.9 L313.2,1417.5 L317.9,1408 L324.3,1433.3 L328.1,1406.4 L330.6,1415.9 L333.8,1392.2 L336.9,1396.9 L341.7,1423.8 L346.4,1424.7 L348.9,1419 L352.7,1438 L357.5,1422.2 L360.6,1403.2 L363.8,1457 L367.9,1423.8 L371.7,1394.4 L376.4,1422.2 L380.6,1398.5 L383.7,1457.6 L385.9,1399.4 L389.1,1401.7 L392.3,1412.7 L394.5,1404.8 L397.6,1430.1 L402.7,1386.8 L406.5,1412.7 L411.2,1479.1 L413.4,1441.2 L416,1439.6 L419.1,1479.1 L423.9,1425.4 L427,1414.3 L431.1,1392.2 L433.4,1400.1 L435.6,1371.6 L438.1,1398.5 L440.6,1385.9 L443.8,1371.6 L447,1384.3 L452.3,1449.1 L457.1,1393.8 L462.8,1362.8 L466.6,1445.9 L470.4,1415.9 L474.5,1409.6 L478.6,1438 L483,1400.1 L486.2,1419 L490.3,1425.4 L495,1404.8 L501.3,1373.2 L505.1,1422.2 L510.2,1453.8 L515.6,1387.4 L519,1401.7 L522.2,1444.3 L526,1392.2 L529.1,1400.1 L533.2,1366.9 L536.4,1406.4 L539.6,1408 L543.7,1404.8 L549,1453.8 L553.8,1419 L557.6,1393.8 L563.3,1453.8 L566.4,1396.9 L571.2,1419 L577.5,1460.2 L585.4,1409.6 L588.6,1444.3 L591.7,1425.4 L599.6,1474.4 L606,1419 L610.7,1425.4 L613.9,1447.5 L618.6,1403.2 L621.8,1406.4 L624.9,1445.9 L629.7,1404.8 L632.8,1425.4 L636,1408.9 L640.7,1474.4 L643.9,1428.5 L646.1,1442.8 L649.3,1392.2 L651.8,1406.4 L655,1404.8 L660.7,1469.6 L666,1423.8 L671.7,1408 L677.1,1458.6 L680.3,1415.9 L684.1,1442.8 L689.1,1417.5 L694.5,1428.5 L699.2,1460.2 L702.4,1434.9 L705.6,1444.3 L708.7,1431.7 L712.5,1430.1 L715.7,1438 L720.7,1479.1 L724.5,1431.7 L727.7,1458.6 L730.9,1427 L734,1441.2 L735.9,1408 L737.2,1425.4" fill="none" stroke="#151515" stroke-width="1.1" stroke-linejoin="round" />
<path d="M56.1,1667.6 L58.3,1656.5 L62.4,1654.9 L64.6,1653.4 L67.1,1688.1 L70.3,1638.5 L73.5,1667.6 L75.7,1683.4 L80.4,1662.8 L83.6,1682.8 L86.7,1680.2 L89.3,1686.6 L92.4,1708.7 L95,1656.5 L98.1,1658.1 L101.3,1672.3 L105.1,1680.2 L109.2,1656.5 L113,1667.6 L117.1,1646.1 L120.9,1656.5 L124.7,1645.5 L130.4,1680.2 L133.5,1656.5 L136.7,1650.2 L140.5,1673.9 L143,1667.6 L145.6,1675.5 L149.3,1661.3 L152.5,1675.5 L155.7,1615.4 L159.5,1642.3 L162,1658.1 L165.8,1654.9 L169.9,1642.3 L174.6,1716.6 L179.4,1647 L184.1,1636 L187.9,1647 L192,1600.6 L195.2,1678.7 L199.3,1636 L203.1,1642.3 L206.3,1631.2 L208.8,1637.5 L212,1621.7 L215.8,1632.8 L218.3,1623.3 L222.1,1647 L225.9,1607.5 L230,1588.5 L233.8,1572.1 L238.5,1610.7 L241,1598 L244.8,1575.9 L246.7,1584.7 L250.5,1564.8 L254.3,1572.7 L256.2,1583.8 L261.6,1562.6 L264.8,1563.2 L269.5,1612.3 L272.7,1587.9 L277.4,1596.4 L280,1609.1 L284.7,1620.2 L287,1624.9 L289.5,1640.7 L292,1699.2 L294.2,1645.5 L297.4,1639.1 L300.6,1637.5 L303.7,1642.3 L309.1,1617.6 L311.6,1639.1 L315.4,1650.2 L319.5,1654.9 L322.7,1629.6 L326.8,1656.5 L332.2,1683.4 L335.3,1680.2 L340.1,1662.8 L343.2,1683.4 L346.4,1664.4 L348.9,1692.9 L352.1,1667.6 L355.3,1658.1 L358.4,1653.4 L361.6,1683.4 L364.7,1672.3 L367.9,1689.7 L371.7,1677.1 L376.4,1648.6 L379.6,1678.7 L382.8,1640.7 L387.5,1667.6 L391.3,1658.1 L393.8,1670.8 L398.6,1647 L401.7,1659.7 L405.8,1672.3 L409.6,1670.8 L412.8,1675.5 L416,1664.4 L419.1,1698.6 L422.3,1670.8 L426.1,1677.1 L430.2,1662.8 L433.4,1699.8 L436.5,1658.1 L441.3,1666 L444.4,1642.3 L448.2,1632.8 L450.8,1651.8 L453.9,1639.1 L457.1,1654.9 L461.8,1609.1 L464,1594.9 L467.2,1626.5 L471.3,1632.8 L476,1610.7 L479.2,1601.2 L483,1647 L487.1,1604.3 L490.3,1609.1 L493.4,1583.8 L496.6,1613.8 L500.7,1561.7 L503.9,1539.5 L507,1537.3 L510.2,1550.6 L514,1531 L516.5,1534.2 L518.7,1563.2 L522.2,1542.7 L526,1535.4 L530.1,1556.9 L533.2,1561.7 L536.4,1547.4 L538.6,1526.9 L541.1,1555.3 L544.3,1560.1 L547.5,1575.9 L550,1580.6 L552.2,1588.5 L555.4,1575.9 L558.5,1620.2 L561.7,1613.8 L564.8,1636 L568,1659 L571.2,1671.6 L575.3,1649.5 L578.4,1660.6 L580.7,1692.2 L585.4,1695.3 L588.6,1704.8 L593.3,1678 L596.5,1668.5 L599.6,1687.4 L602.8,1706.4 L608.2,1659.6 L611.3,1693.8 L616.4,1723.8 L620.2,1709.6 L624.9,1698.5 L629.7,1679.5 L632.8,1706.4 L637.6,1717.5 L643.9,1674.8 L647.1,1708 L649.3,1725.4 L654.3,1685.8 L658.1,1703.2 L661.9,1709.6 L666,1690.6 L669.2,1741.2 L672.4,1725.4 L676.5,1734.9 L680.3,1719.1 L683.4,1711.1 L687.2,1725.4 L690.4,1696.9 L692.9,1711.1 L696.1,1692.2 L698.6,1714.3 L701.8,1698.5 L704.9,1731.7 L708.1,1701.7 L711.9,1704.8 L715,1723.8 L721.4,1701.7 L725.2,1720.6 L729.3,1731.7 L732.4,1744.3 L735.6,1715.9 L737.2,1723.8" fill="none" stroke="#151515" stroke-width="1.1" stroke-linejoin="round" />
<rect x="45" y="1251.5" width="693.2" height="514.3" fill="none" stroke="#000" stroke-width="2.2"/>
<line x1="183.6" y1="1765.8" x2="183.6" y2="1755.8" stroke="#000" stroke-width="2"/>
<line x1="322.2" y1="1765.8" x2="322.2" y2="1755.8" stroke="#000" stroke-width="2"/>
<line x1="460.8" y1="1765.8" x2="460.8" y2="1755.8" stroke="#000" stroke-width="2"/>
<line x1="599.4" y1="1765.8" x2="599.4" y2="1755.8" stroke="#000" stroke-width="2"/>
<line x1="114.3" y1="1765.8" x2="114.3" y2="1760.8" stroke="#000" stroke-width="2"/>
<line x1="252.9" y1="1765.8" x2="252.9" y2="1760.8" stroke="#000" stroke-width="2"/>
<line x1="391.5" y1="1765.8" x2="391.5" y2="1760.8" stroke="#000" stroke-width="2"/>
<line x1="530.1" y1="1765.8" x2="530.1" y2="1760.8" stroke="#000" stroke-width="2"/>
<line x1="668.7" y1="1765.8" x2="668.7" y2="1760.8" stroke="#000" stroke-width="2"/>
<text transform="translate(45,1794.8) scale(1,1.08)" style="font-family:&quot;Liberation Sans&quot;,sans-serif;font-size:22.6px" text-anchor="middle">595</text>
<text transform="translate(183.6,1794.8) scale(1,1.08)" style="font-family:&quot;Liberation Sans&quot;,sans-serif;font-size:22.6px" text-anchor="middle">590</text>
<text transform="translate(322.2,1794.8) scale(1,1.08)" style="font-family:&quot;Liberation Sans&quot;,sans-serif;font-size:22.6px" text-anchor="middle">585</text>
<text transform="translate(460.8,1794.8) scale(1,1.08)" style="font-family:&quot;Liberation Sans&quot;,sans-serif;font-size:22.6px" text-anchor="middle">580</text>
<text transform="translate(599.4,1794.8) scale(1,1.08)" style="font-family:&quot;Liberation Sans&quot;,sans-serif;font-size:22.6px" text-anchor="middle">575</text>
<text transform="translate(738,1794.8) scale(1,1.08)" style="font-family:&quot;Liberation Sans&quot;,sans-serif;font-size:22.6px" text-anchor="middle">570</text>
<text x="283.4" y="1830.6" style="font-family:&quot;Liberation Serif&quot;,serif;font-size:27.4px;font-weight:bold" text-anchor="start" >Binding Energy (eV)</text>
<text transform="translate(35.9,1502) rotate(-90)" style="font-family:&quot;Liberation Serif&quot;,serif;font-size:27px;font-weight:bold" text-anchor="middle">Counts (s<tspan dy="-12.7" style="font-size:17.8px">-1</tspan><tspan dy="12.7">)</tspan></text>
<text x="82.5" y="1302.6" style="font-family:&quot;Liberation Serif&quot;,serif;font-size:28.5px;font-weight:normal" text-anchor="start" >(c)</text>
<text x="641.8" y="1303" style="font-family:&quot;Liberation Serif&quot;,serif;font-size:28.3px;font-weight:normal" text-anchor="start" >Cr2p</text>
<text x="663.4" y="1384.4" style="font-family:&quot;Liberation Serif&quot;,serif;font-size:26.6px;font-weight:normal" text-anchor="start" >FA</text>
<text x="628.1" y="1661.9" style="font-family:&quot;Liberation Serif&quot;,serif;font-size:27px;font-weight:normal" text-anchor="start" >MFA-Cr</text>
<text x="358" y="1548.7" style="font-family:&quot;Liberation Serif&quot;,serif;font-size:27px;font-weight:normal" text-anchor="start" >Cr(</text>
<g fill="#000"><rect x="398.8" y="1529.5" width="20" height="1.9"/><rect x="398.6" y="1546.8" width="20.2" height="1.9"/><rect x="400.9" y="1531" width="2.9" height="16"/><rect x="406.6" y="1531" width="2.9" height="16"/><rect x="412.4" y="1531" width="2.9" height="16"/></g>
<text x="422.3" y="1548.7" style="font-family:&quot;Liberation Serif&quot;,serif;font-size:27px;font-weight:normal" text-anchor="start" >)</text>
<text x="346.3" y="1632.5" style="font-family:&quot;Liberation Serif&quot;,serif;font-size:27px;font-weight:normal" text-anchor="start" >Cr(</text>
<path fill="#000" d="M384.5,1613.6 L392.3,1613.6 L392.3,1614.9 L390.4,1614.9 L395.1,1628.3 L399,1614.9 L397,1614.9 L397,1613.6 L400.6,1613.6 L400.6,1614.9 L399.9,1614.9 L394.5,1632.8 L393.5,1632.8 L387,1614.9 L384.5,1614.9 Z"/><rect x="401" y="1613.6" width="7" height="1.3"/><rect x="402.6" y="1614.5" width="2.9" height="17.2"/><rect x="400.8" y="1631.4" width="7.2" height="1.4"/>
<text x="411.6" y="1632.5" style="font-family:&quot;Liberation Serif&quot;,serif;font-size:27px;font-weight:normal" text-anchor="start" >)</text>
<line x1="286.3" y1="1654.9" x2="377.5" y2="1569.6" stroke="#000" stroke-width="1.0"/>
<path d="M385.9,1561.7 L379,1574.1 L373.1,1567.8 Z" fill="#000"/>
<line x1="520" y1="1636" x2="410" y2="1567.8" stroke="#000" stroke-width="1.0"/>
<path d="M400.2,1561.7 L413.9,1565.2 L409.4,1572.5 Z" fill="#000"/>
<line x1="277" y1="1681.4" x2="349.3" y2="1644.7" stroke="#000" stroke-width="1.0"/>
<path d="M359.6,1639.5 L349.5,1649.4 L345.6,1641.8 Z" fill="#000"/>
<line x1="447.2" y1="1677.6" x2="394.3" y2="1643.7" stroke="#000" stroke-width="1.0"/>
<path d="M384.6,1637.5 L398.3,1641.2 L393.6,1648.4 Z" fill="#000"/>
<path d="M252.4,2108 C282,2108.4 368.7,2110.1 430,2110.7 C491.3,2111.3 573.1,2111.6 620,2111.6 C666.9,2111.6 696.2,2110.9 711.5,2110.8" fill="none" stroke="#0000ff" stroke-width="1" stroke-linejoin="round" />
<path d="M252.4,2108.6 C270.6,2108.4 337,2108 361.8,2107.5 C386.6,2107 391.6,2106.5 401.3,2105.4 C411,2104.3 413.8,2104.5 420,2100.7 C426.2,2096.8 433,2087.5 438.5,2082.3 C444,2077.1 449.4,2071.8 453.2,2069.3 C457,2066.8 458.7,2066.9 461.5,2067.5 C464.3,2068.1 466.6,2069.9 469.8,2073 C473,2076.1 476.9,2081.9 480.9,2085.9 C484.9,2089.9 488.6,2093.9 493.8,2097 C499,2100.1 506.1,2102.6 512.3,2104.4 C518.4,2106.2 522.8,2107.2 530.7,2108.1 C538.7,2109 545.1,2109.4 560,2109.9 C574.9,2110.4 594.8,2110.9 620,2111 C645.2,2111.1 696.2,2110.7 711.5,2110.6" fill="none" stroke="#008000" stroke-width="1" stroke-linejoin="round" />
<path d="M252.4,2104.6 C257.4,2103.9 273.3,2102 282.7,2100.6 C292.1,2099.2 300.2,2098.3 309,2095.9 C317.8,2093.5 327.5,2090.6 335.4,2086.1 C343.3,2081.6 350.4,2075.3 356.5,2069 C362.6,2062.7 367.9,2055.4 372.3,2048 C376.7,2040.6 379.7,2032.3 382.8,2024.5 C385.9,2016.7 388.1,2009.3 390.7,2001 C393.3,1992.7 396.3,1981.1 398.5,1974.6 C400.7,1968.1 402.2,1965.3 404,1962 C405.8,1958.7 407.3,1956.6 409,1954.8 C410.7,1953 412.3,1951.2 414.3,1951.4 C416.3,1951.6 418.9,1954 420.9,1956.1 C422.8,1958.2 424.6,1961 426,1964 C427.4,1967 428.4,1969.7 429.5,1974 C430.6,1978.3 431.6,1984.7 432.9,1990 C434.2,1995.3 436,2001.1 437.5,2006 C439,2010.9 439.8,2013.5 442.1,2019.5 C444.4,2025.5 448.3,2034.9 451.4,2041.7 C454.5,2048.5 457.2,2054.6 460.6,2060.1 C464,2065.6 467.7,2070.6 471.7,2074.9 C475.7,2079.2 479.4,2082.5 484.6,2085.9 C489.8,2089.3 496.9,2092.7 503,2095.2 C509.1,2097.7 512,2099 521.5,2100.7 C531,2102.4 543.6,2104 560,2105.3 C576.4,2106.6 594.8,2107.8 620,2108.6 C645.2,2109.4 696.2,2109.8 711.5,2110" fill="none" stroke="#000080" stroke-width="1" stroke-linejoin="round" />
<path d="M252.4,2104.1 C257.4,2103.4 273.3,2101.5 282.7,2100.1 C292.1,2098.7 300.2,2097.8 309,2095.4 C317.8,2093 327.5,2090.1 335.4,2085.6 C343.3,2081.1 350.4,2074.9 356.5,2068.5 C362.6,2062.1 367.9,2054.9 372.3,2047.4 C376.7,2039.9 379.7,2031.6 382.8,2023.7 C385.9,2015.8 387.6,2009.5 390.7,2000 C393.8,1990.5 398.1,1975.3 401.1,1966.7 C404.2,1958.1 406.7,1952 409,1948.2 C411.3,1944.4 412.8,1943.9 414.8,1943.7 C416.8,1943.5 418.7,1944.4 420.9,1946.9 C423.1,1949.5 425.6,1954.2 428,1959 C430.4,1963.8 432.4,1970 435.4,1975.9 C438.4,1981.8 443.2,1989.8 445.9,1994.3 C448.6,1998.8 448.9,1999.1 451.6,2003.2 C454.3,2007.3 458.7,2012.4 462.2,2019 C465.7,2025.6 468.8,2034.8 472.7,2042.7 C476.6,2050.6 481.5,2059.8 485.9,2066.4 C490.3,2073 494.6,2078 499,2082.2 C503.4,2086.4 505.6,2088.5 512.2,2091.4 C518.8,2094.3 529.8,2097.4 538.6,2099.4 C547.4,2101.4 551.3,2102 564.9,2103.3 C578.5,2104.6 595.6,2106 620,2107 C644.4,2108 696.2,2109.1 711.5,2109.5" fill="none" stroke="#ff0000" stroke-width="1" stroke-linejoin="round" />
<path d="M44.3,2107.5 C45,2107.4 46.5,2106.8 48.7,2107 C50.9,2107.2 54,2108.2 57.4,2108.4 C60.8,2108.6 65.9,2108.1 69,2108.4 C72.1,2108.7 74.3,2110 76.2,2110.1 C78.1,2110.2 77,2109.1 80.6,2109 C84.2,2108.9 94.1,2109.6 98,2109.6 C101.9,2109.6 101.4,2108.8 103.8,2109 C106.2,2109.2 110.1,2110.9 112.5,2111 C114.9,2111.1 114.9,2109.8 118.3,2109.6 C121.7,2109.4 126.5,2109.7 132.8,2109.9 C139.1,2110.1 149.7,2110.9 156,2111 C162.3,2111.1 164.6,2110.7 170.4,2110.4 C176.2,2110.1 186.3,2108.9 190.7,2109 C195,2109.1 193.1,2110.8 196.5,2110.7 C199.9,2110.6 206.2,2108.8 211,2108.4 C215.8,2108 221.2,2108.3 225.5,2108.4 C229.8,2108.5 233.7,2108.7 237.1,2109 C240.5,2109.3 242.6,2110.3 245.8,2110.1 C249,2109.9 252.4,2108.1 256.4,2108 C260.3,2107.9 265.1,2109.4 269.5,2109.4 C273.9,2109.4 278.3,2108.9 282.7,2108 C287.1,2107.1 291.5,2105.4 295.9,2104.1 C300.3,2102.8 305.1,2101.9 309,2100.1 C312.9,2098.3 315.2,2097.2 319.6,2093.5 C324,2089.8 330.6,2083.2 335.4,2077.7 C340.2,2072.2 344.2,2067.4 348.6,2060.6 C353,2053.8 357.9,2044.8 361.8,2036.9 C365.8,2029 368.2,2022.5 372.3,2013.2 C376.4,2003.9 383.1,1989 386.7,1981.1 C390.3,1973.2 392,1969.7 394,1966 C396,1962.3 397.1,1960.1 398.5,1958.7 C399.9,1957.3 401.1,1957.8 402.5,1957.4 C403.9,1957 405.5,1956.9 407,1956.5 C408.5,1956.1 410.2,1955 411.7,1954.8 C413.2,1954.6 414.8,1955 416,1955.5 C417.2,1956 418,1957.5 419,1957.8 C420,1958.1 421.2,1957 422.2,1957.4 C423.2,1957.8 423.9,1958.4 424.9,1960 C425.9,1961.6 426.7,1964.1 428,1967 C429.3,1969.9 431.5,1975 432.8,1977.2 C434.1,1979.4 434.7,1978.7 436,1980 C437.3,1981.3 439.4,1983.1 440.7,1985.1 C442,1987.1 442.6,1988.5 444,1992 C445.4,1995.5 446.9,2000.9 449,2005.8 C451.1,2010.7 455.1,2018.5 456.9,2021.6 C458.7,2024.7 459.1,2023.5 460,2024.5 C460.9,2025.5 461.5,2026.2 462.2,2027.5 C462.9,2028.8 463,2029.4 464.3,2032.4 C465.6,2035.4 467.7,2041.1 469.8,2045.4 C471.9,2049.7 474.7,2054.3 477.2,2058.3 C479.7,2062.3 481.8,2065.3 484.6,2069.3 C487.4,2073.3 491.4,2079.1 493.8,2082.3 C496.2,2085.5 497.2,2086.9 499.3,2088.7 C501.4,2090.5 503.9,2091.5 506.7,2093.3 C509.5,2095.2 513.1,2098 515.9,2099.8 C518.7,2101.7 519.3,2103 523.3,2104.4 C527.3,2105.8 536,2107.2 539.9,2108.1 C543.8,2109 542.3,2109.5 546.5,2109.9 C550.7,2110.3 559.3,2110.4 564.9,2110.7 C570.5,2111 575.6,2111.3 580,2111.5 C584.4,2111.7 588,2111.9 591.3,2111.7 C594.6,2111.5 595.2,2110.6 600,2110.5 C604.8,2110.4 615,2111.2 620,2111.2 C625,2111.2 626.7,2110.5 630,2110.5 C633.3,2110.5 636.5,2111.2 640,2111.3 C643.5,2111.4 647.7,2110.9 651,2111 C654.3,2111.1 656.8,2112 660,2112 C663.2,2112 666.7,2110.9 670,2110.8 C673.3,2110.7 676.7,2111.5 680,2111.5 C683.3,2111.5 686.7,2110.9 690,2110.8 C693.3,2110.8 696.4,2111.2 700,2111.2 C703.6,2111.1 709.6,2110.6 711.5,2110.5" fill="none" stroke="#111" stroke-width="1" stroke-linejoin="round" />
<path d="M229.5,2349.1 C264.6,2349.4 394.9,2350.5 440,2351 C485.1,2351.5 454.8,2351.9 500,2352 C545.2,2352.1 675.9,2351.5 711.1,2351.4" fill="none" stroke="#0000ff" stroke-width="1" stroke-linejoin="round" />
<path d="M229.5,2349.1 C249.2,2348.8 319.2,2348.2 347.5,2347.3 C375.8,2346.4 388.8,2344.9 399.2,2343.6 C409.6,2342.3 406.5,2341.2 410,2339.3 C413.5,2337.5 416.1,2336.1 420,2332.5 C423.9,2328.9 428.8,2324.2 433.2,2318 C437.6,2311.8 442.7,2302 446.4,2295.6 C450.1,2289.2 453.2,2283 455.6,2279.8 C458,2276.6 459.2,2276.7 460.8,2276.5 C462.4,2276.3 463.9,2276.8 465.5,2278.4 C467.1,2280.1 468.2,2282.9 470.1,2286.4 C472,2289.9 474.5,2295.1 476.7,2299.5 C478.9,2303.9 480.8,2308.5 483.2,2312.7 C485.6,2316.9 488.5,2320.9 491.1,2324.6 C493.8,2328.3 496,2332.5 499.1,2335.1 C502.2,2337.7 506.1,2339 509.6,2340.4 C513.1,2341.8 516.8,2342.9 520,2343.7 C523.2,2344.5 522.7,2344.3 529,2345.2 C535.3,2346.1 548.3,2348.2 558,2349.1 C567.7,2350 561.5,2350.2 587,2350.6 C612.5,2350.9 690.4,2351.1 711.1,2351.2" fill="none" stroke="#33eeb0" stroke-width="1" stroke-linejoin="round" />
<path d="M229.5,2344.3 C236.9,2343.4 260.3,2341 273.8,2338.7 C287.3,2336.4 300.9,2333.6 310.7,2330.6 C320.5,2327.6 326.1,2325.2 332.8,2320.5 C339.6,2315.8 345.7,2309.8 351.2,2302.5 C356.7,2295.2 361.9,2284.9 366,2277 C370.1,2269.1 372.8,2262 376,2255 C379.2,2248 382,2244.2 385.3,2235 C388.6,2225.8 393.3,2208.1 395.9,2199.8 C398.5,2191.5 399.2,2189.4 401,2185 C402.8,2180.6 404.3,2176.5 406.4,2173.5 C408.5,2170.5 411.6,2167.1 413.8,2166.9 C416,2166.7 417.7,2169.5 419.6,2172.2 C421.5,2174.9 423.2,2179.1 425,2183 C426.8,2186.9 428.2,2190.1 430.1,2195.9 C432,2201.7 434.1,2210.6 436.1,2217.8 C438.1,2225.1 439.8,2232.4 442,2239.4 C444.2,2246.4 447.1,2253.7 449.6,2260 C452.1,2266.3 454.6,2271.9 456.9,2277.1 C459.2,2282.3 461.3,2286.8 463.5,2291 C465.7,2295.2 467.9,2298.6 470.1,2302.2 C472.3,2305.8 474.1,2309.4 476.7,2312.7 C479.3,2316 482.6,2319.1 485.9,2321.9 C489.2,2324.8 492.4,2327.6 496.4,2329.8 C500.3,2332 504.2,2333.5 509.6,2335.1 C515,2336.7 520.9,2338.1 529,2339.5 C537.1,2340.9 548.3,2342.3 558,2343.3 C567.7,2344.3 577.3,2344.8 587,2345.4 C596.7,2346 595.3,2346.5 616,2347.1 C636.7,2347.7 695.2,2348.8 711.1,2349.2" fill="none" stroke="#8000ff" stroke-width="1" stroke-linejoin="round" />
<path d="M229.5,2343.6 C236.9,2342.7 260.3,2340.3 273.8,2338 C287.3,2335.7 300.9,2333 310.7,2329.9 C320.5,2326.8 326.1,2324.4 332.8,2319.6 C339.6,2314.8 345.7,2308.6 351.2,2301.2 C356.7,2293.8 361.9,2283.3 366,2275.3 C370.1,2267.3 373.2,2259.6 376,2253 C378.8,2246.4 380.7,2242.3 383,2236 C385.3,2229.7 387.4,2223.9 390,2215 C392.6,2206.1 396.2,2190.7 398.5,2182.7 C400.8,2174.7 402.2,2171.2 404,2167 C405.8,2162.8 406.9,2160 409,2157.7 C411.1,2155.4 414,2153.4 416.4,2153.2 C418.8,2153 421.4,2154.6 423.5,2156.4 C425.6,2158.2 427,2160.9 429,2164 C431,2167.1 432.6,2170.4 435.4,2174.8 C438.2,2179.2 442.8,2186.4 445.9,2190.6 C449,2194.8 451.1,2195.4 453.8,2199.8 C456.5,2204.2 459.3,2210.8 461.8,2217 C464.3,2223.2 466.5,2229.8 469,2237 C471.5,2244.2 474.3,2253.3 476.7,2260 C479.1,2266.7 481,2272 483.2,2277.1 C485.4,2282.2 487.6,2285.9 489.8,2290.3 C492,2294.7 493.8,2298.9 496.4,2303.5 C499,2308.1 501.7,2313.8 505.6,2318 C509.5,2322.2 516.1,2325.9 520,2328.5 C523.9,2331.1 522.7,2331.3 529,2333.3 C535.3,2335.3 548.3,2338.6 558,2340.4 C567.7,2342.2 577.3,2343.2 587,2344.2 C596.7,2345.2 606.3,2345.6 616,2346.2 C625.7,2346.8 635.4,2347.3 645,2347.7 C654.6,2348.1 662.9,2348.4 673.9,2348.6 C684.9,2348.8 704.9,2349 711.1,2349.1" fill="none" stroke="#ff0000" stroke-width="1" stroke-linejoin="round" />
<path d="M44.3,2345.5 C46,2345.8 51.6,2347.3 54.5,2347.5 C57.4,2347.7 57.8,2346.5 61.7,2346.7 C65.6,2346.8 74.1,2348 77.7,2348.4 C81.3,2348.8 81.6,2349.2 83.5,2349 C85.4,2348.8 86.9,2347 89.3,2347 C91.7,2347 95.1,2348.5 98,2349 C100.9,2349.5 104.3,2349.9 106.7,2349.9 C109.1,2349.9 110.6,2349.4 112.5,2349 C114.4,2348.6 115.9,2347.5 118.3,2347.5 C120.7,2347.5 122.7,2348.8 127,2349 C131.3,2349.2 139.5,2348.4 144.3,2348.4 C149.1,2348.4 150.7,2348.8 156,2349 C161.3,2349.2 170.4,2349.7 176.2,2349.6 C182,2349.5 186.3,2348.5 190.7,2348.4 C195,2348.3 198,2349 202.3,2349 C206.7,2349 213.7,2348.2 216.8,2348.4 C220,2348.6 218.8,2349.8 221.2,2349.9 C223.6,2350 228.7,2349.1 231.3,2349 C233.9,2348.9 229.8,2349.4 236.9,2349.1 C244,2348.8 265.2,2348 273.8,2347.3 C282.4,2346.6 283.6,2345.9 288.5,2344.7 C293.4,2343.5 297.8,2342.4 303.3,2339.9 C308.8,2337.4 315.6,2335.1 321.7,2329.9 C327.8,2324.7 334.7,2317 340.2,2308.5 C345.7,2300 350,2289.4 354.9,2279 C359.8,2268.6 365.4,2255.6 369.7,2245.8 C374,2236 377.2,2227.4 380.7,2220 C384.2,2212.6 387.2,2207.3 390.6,2201.1 C394,2194.9 397.6,2188.2 401.1,2182.7 C404.6,2177.2 408.6,2171.6 411.7,2168.2 C414.8,2164.8 417,2162.5 419.6,2162.1 C422.2,2161.7 424.9,2163.9 427.5,2165.6 C430.1,2167.3 432.4,2170.1 435,2172.5 C437.6,2174.9 440.6,2176.2 443.3,2180.1 C446,2184 448.6,2189.8 451.2,2195.9 C453.8,2202.1 456.5,2209.8 459.1,2217 C461.7,2224.2 464.3,2232.2 467,2239.4 C469.7,2246.6 472.8,2253.9 475.3,2260 C477.8,2266.1 479.5,2270.3 481.9,2275.8 C484.3,2281.3 487.4,2288.1 489.8,2292.9 C492.2,2297.7 493.8,2300.4 496.4,2304.8 C499,2309.2 502.6,2315.5 505.6,2319.3 C508.6,2323.1 510.6,2324.1 514.5,2327.4 C518.4,2330.7 524.2,2335.9 529,2339 C533.8,2342.1 538.7,2344.6 543.5,2346.2 C548.3,2347.8 550.8,2347.7 558,2348.3 C565.2,2348.9 580,2349.5 587,2350 C594,2350.5 594.2,2351 600,2351.3 C605.8,2351.6 615,2352.1 621.7,2352 C628.4,2351.9 633.6,2351 640,2351 C646.4,2351 654.4,2352 660,2352 C665.6,2352 668.1,2351.2 673.9,2351.2 C679.7,2351.2 688.8,2351.9 695,2351.8 C701.2,2351.7 708.4,2351 711.1,2350.8" fill="none" stroke="#111" stroke-width="1" stroke-linejoin="round" />
<rect x="43.5" y="1864" width="695.8" height="513.4" fill="none" stroke="#000" stroke-width="2.2"/>
<line x1="275.4" y1="2377.4" x2="275.4" y2="2367.4" stroke="#000" stroke-width="2"/>
<line x1="507.2" y1="2377.4" x2="507.2" y2="2367.4" stroke="#000" stroke-width="2"/>
<line x1="159.4" y1="2377.4" x2="159.4" y2="2372.4" stroke="#000" stroke-width="2"/>
<line x1="391.3" y1="2377.4" x2="391.3" y2="2372.4" stroke="#000" stroke-width="2"/>
<line x1="623.1" y1="2377.4" x2="623.1" y2="2372.4" stroke="#000" stroke-width="2"/>
<text transform="translate(43.5,2406.9) scale(1,1.08)" style="font-family:&quot;Liberation Sans&quot;,sans-serif;font-size:22.4px" text-anchor="middle">540</text>
<text transform="translate(275.4,2406.9) scale(1,1.08)" style="font-family:&quot;Liberation Sans&quot;,sans-serif;font-size:22.4px" text-anchor="middle">535</text>
<text transform="translate(507.2,2406.9) scale(1,1.08)" style="font-family:&quot;Liberation Sans&quot;,sans-serif;font-size:22.4px" text-anchor="middle">530</text>
<text transform="translate(739,2406.9) scale(1,1.08)" style="font-family:&quot;Liberation Sans&quot;,sans-serif;font-size:22.4px" text-anchor="middle">525</text>
<text x="283.2" y="2442.4" style="font-family:&quot;Liberation Serif&quot;,serif;font-size:27.4px;font-weight:bold" text-anchor="start" >Binding Energy (eV)</text>
<text transform="translate(26.5,2132) rotate(-90)" style="font-family:&quot;Liberation Serif&quot;,serif;font-size:28.6px;font-weight:bold" text-anchor="middle">Counts (s<tspan dy="-13.4" style="font-size:18.9px">-1</tspan><tspan dy="13.4">)</tspan></text>
<text x="74.9" y="1912.6" style="font-family:&quot;Liberation Serif&quot;,serif;font-size:28.5px;font-weight:normal" text-anchor="start" >(d)</text>
<text x="635.3" y="1928.2" style="font-family:&quot;Liberation Serif&quot;,serif;font-size:28px;font-weight:normal" text-anchor="start" >O1s</text>
<text x="644.6" y="2094.4" style="font-family:&quot;Liberation Serif&quot;,serif;font-size:27.6px;font-weight:normal" text-anchor="start" >FA</text>
<text x="618.4" y="2320.4" style="font-family:&quot;Liberation Serif&quot;,serif;font-size:27.4px;font-weight:normal" text-anchor="start" >MFA-Cr</text>
<text x="456.8" y="2189" style="font-family:&quot;Liberation Serif&quot;,serif;font-size:27.6px">&#8801;OH<tspan dy="9.3" style="font-size:19.5px">2</tspan><tspan dy="-9.3">(water)</tspan></text>
<text x="514.6" y="2258" style="font-family:&quot;Liberation Serif&quot;,serif;font-size:27.8px">&#8801;OH</text>
<line x1="421.5" y1="2252.8" x2="479" y2="2213.4" stroke="#000" stroke-width="1.0"/>
<path d="M488.5,2206.9 L479.8,2218.1 L474.9,2211 Z" fill="#000"/>
<line x1="465.1" y1="2317.7" x2="522.7" y2="2278.1" stroke="#000" stroke-width="1.0"/>
<path d="M532.2,2271.6 L523.5,2282.8 L518.6,2275.7 Z" fill="#000"/></svg>
</body></html>
